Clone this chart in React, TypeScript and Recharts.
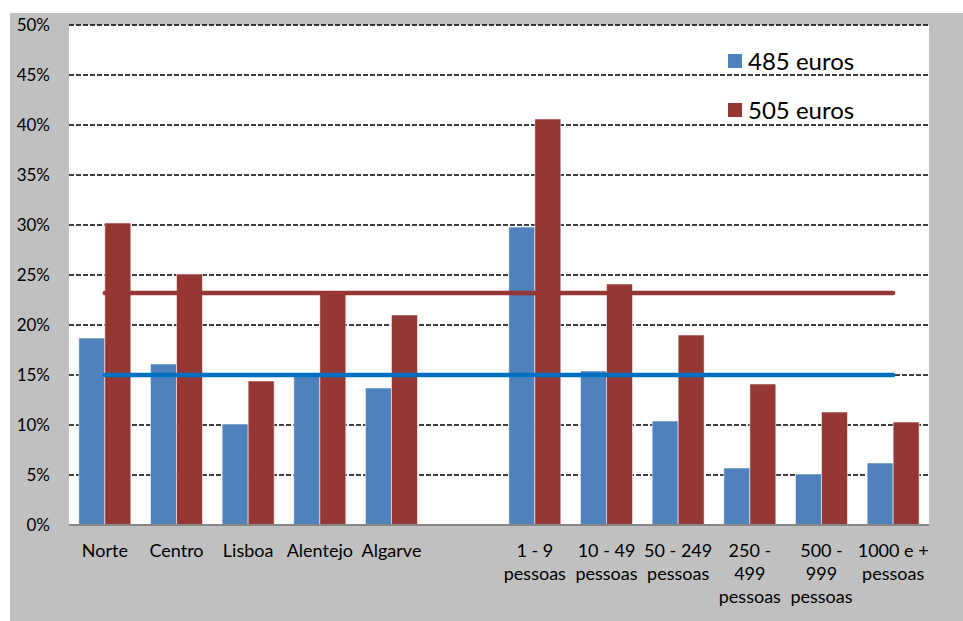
import React from 'react';
import { ComposedChart, Bar, Line, XAxis, YAxis, CartesianGrid, Legend } from 'recharts';

const categories = [
  'Norte', 'Centro', 'Lisboa', 'Alentejo', 'Algarve', '',
  '1 - 9\npessoas', '10 - 49\npessoas', '50 - 249\npessoas',
  '250 -\n499\npessoas', '500 -\n999\npessoas', '1000 e +\npessoas',
];
const values485: (number | null)[] = [18.7, 16.1, 10.1, 14.9, 13.7, null, 29.8, 15.4, 10.4, 5.7, 5.1, 6.2];
const values505: (number | null)[] = [30.2, 25.1, 14.4, 23.4, 21.0, null, 40.6, 24.1, 19.0, 14.1, 11.3, 10.3];
const avg485 = 15.0;
const avg505 = 23.2;
const yTicks = [0, 5, 10, 15, 20, 25, 30, 35, 40, 45, 50];
const seriesNames = ['485 euros', '505 euros'];
const barColors = ['#4F81BD', '#953735'];

const data = categories.map((name, i) => ({
  name,
  v485: values485[i],
  v505: values505[i],
  a485: avg485,
  a505: avg505,
}));

const FONT = 'Lato, "DejaVu Sans", sans-serif';

const XTick = (props: any) => {
  const { x, y, payload } = props;
  const lines = String(payload.value).split('\n');
  return (
    <text x={x} y={y + 32} textAnchor="middle" fill="#000" fontSize={18} fontFamily={FONT}>
      {lines.map((l, i) => (
        <tspan key={i} x={x} dy={i === 0 ? 0 : 23}>{l}</tspan>
      ))}
    </text>
  );
};

const LegendContent = () => (
  <div style={{ fontFamily: FONT, fontSize: 24, color: '#000' }}>
    {seriesNames.map((n, i) => (
      <div key={n} style={{ height: 49, display: 'flex', alignItems: 'center' }}>
        <div style={{ width: 14, height: 14, background: barColors[i], marginRight: 6 }} />
        <span>{n}</span>
      </div>
    ))}
  </div>
);

export default function App() {
  return (
    <div style={{ position: 'absolute', left: 10, top: 13, width: 953, height: 608, background: '#C0C0C0' }}>
      <ComposedChart
        width={953}
        height={608}
        data={data}
        margin={{ top: 12, right: 34, bottom: 0, left: 0 }}
        barCategoryGap="13.7%"
        barGap={0}
      >
        <CartesianGrid vertical={false} stroke="#000" strokeWidth={1.5} strokeDasharray="5 2" fill="#fff" />
        <XAxis
          dataKey="name"
          interval={0}
          tickLine={false}
          tickSize={0}
          tickMargin={0}
          height={96}
          axisLine={{ stroke: '#868686', strokeWidth: 2 }}
          tick={<XTick />}
        />
        <YAxis
          domain={[0, 50]}
          ticks={yTicks}
          width={59}
          tickLine={false}
          axisLine={false}
          tickSize={0}
          tickMargin={19}
          tickFormatter={(v: number) => `${v}%`}
          tick={{ fill: '#000', fontSize: 17, fontFamily: FONT }}
          interval={0}
        />
        <Legend
          layout="horizontal"
          verticalAlign="middle"
          align="center"
          content={<LegendContent />}
          wrapperStyle={{ left: 718, top: 23, width: 200, height: 98 }}
        />
        <Bar dataKey="v485" name={seriesNames[0]} fill={barColors[0]} stroke="rgba(255,255,255,0.55)" strokeWidth={1} isAnimationActive={false} />
        <Bar dataKey="v505" name={seriesNames[1]} fill={barColors[1]} stroke="rgba(255,255,255,0.55)" strokeWidth={1} isAnimationActive={false} />
        <Line dataKey="a485" stroke="#0070C0" strokeWidth={4.5} strokeLinecap="round" dot={false} activeDot={false} legendType="none" isAnimationActive={false} />
        <Line dataKey="a505" stroke="#953735" strokeWidth={4.5} strokeLinecap="round" dot={false} activeDot={false} legendType="none" isAnimationActive={false} />
      </ComposedChart>
    </div>
  );
}
